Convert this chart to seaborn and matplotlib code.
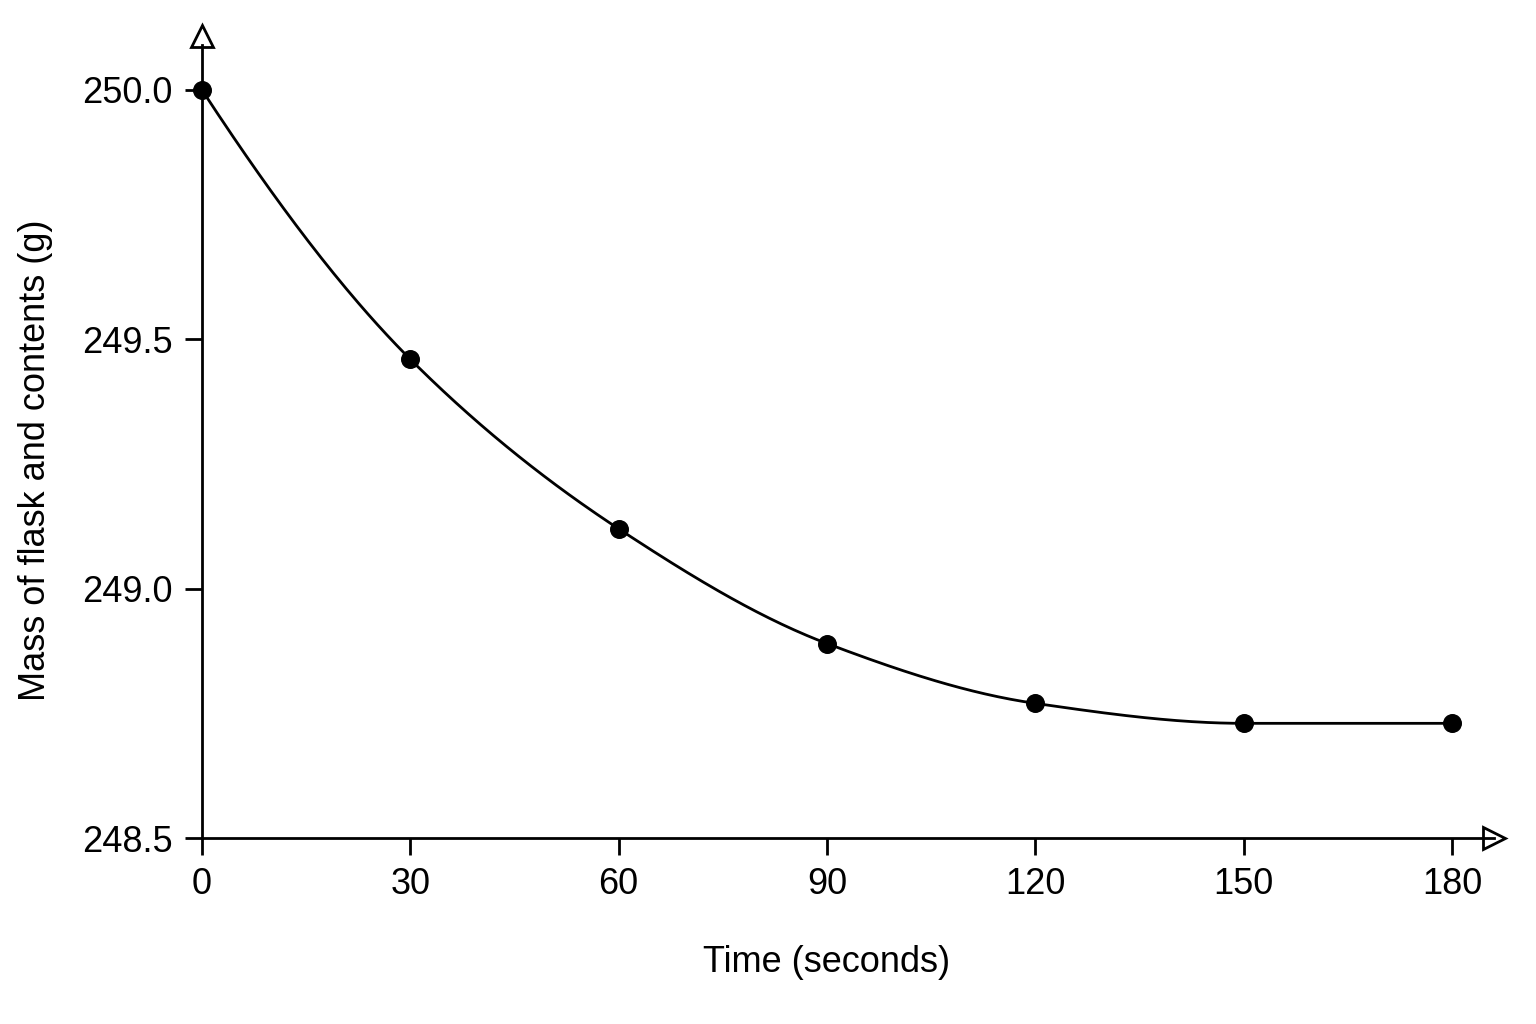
import numpy as np
import pandas as pd
import matplotlib
matplotlib.use("Agg")
import matplotlib.pyplot as plt
import seaborn as sns

# data
time_s = [0, 30, 60, 90, 120, 150, 180]
mass_g = [250.00, 249.46, 249.12, 248.89, 248.77, 248.73, 248.73]
x_ticks = [0, 30, 60, 90, 120, 150, 180]
y_ticks = [248.5, 249.0, 249.5, 250.0]


def pchip(x, y, xs):
    # monotone cubic (Fritsch-Carlson) so the drawn curve goes through every point
    x = np.asarray(x, float)
    y = np.asarray(y, float)
    h = np.diff(x)
    d = np.diff(y) / h
    m = np.zeros_like(y)
    for k in range(1, len(x) - 1):
        if d[k - 1] * d[k] > 0:
            w1 = 2 * h[k] + h[k - 1]
            w2 = h[k] + 2 * h[k - 1]
            m[k] = (w1 + w2) / (w1 / d[k - 1] + w2 / d[k])
    # three-point end slopes
    m[0] = ((2 * h[0] + h[1]) * d[0] - h[0] * d[1]) / (h[0] + h[1])
    m[-1] = ((2 * h[-1] + h[-2]) * d[-1] - h[-1] * d[-2]) / (h[-1] + h[-2])
    if np.sign(m[-1]) != np.sign(d[-1]):
        m[-1] = 0.0
    idx = np.clip(np.searchsorted(x, xs) - 1, 0, len(h) - 1)
    t = (xs - x[idx]) / h[idx]
    h00 = 2 * t**3 - 3 * t**2 + 1
    h10 = t**3 - 2 * t**2 + t
    h01 = -2 * t**3 + 3 * t**2
    h11 = t**3 - t**2
    return (h00 * y[idx] + h10 * h[idx] * m[idx] + h01 * y[idx + 1]
            + h11 * h[idx] * m[idx + 1])


sns.set_theme(style="ticks")
plt.rcParams["font.family"] = ["Liberation Sans", "DejaVu Sans"]

points = pd.DataFrame({"time": time_s, "mass": mass_g})
xs = np.linspace(min(time_s), max(time_s), 400)
curve = pd.DataFrame({"time": xs, "mass": pchip(time_s, mass_g, xs)})

fig = plt.figure(figsize=(15.36, 10.24), dpi=100)
ax = fig.add_axes([0.1315, 0.1816, 0.841, 0.7744])

sns.lineplot(data=curve, x="time", y="mass", ax=ax, color="black", linewidth=2)
sns.scatterplot(data=points, x="time", y="mass", ax=ax, color="black",
                s=160, edgecolor="black", zorder=5, clip_on=False)

ax.set_xlim(0, 186)
ax.set_ylim(248.5, 250.09)
ax.set_xticks(x_ticks)
ax.set_yticks(y_ticks)
ax.set_yticklabels([f"{v:.1f}" for v in y_ticks])
ax.tick_params(direction="out", length=12, width=2, labelsize=26, color="black",
               labelcolor="black", pad=9)

for side in ["top", "right"]:
    ax.spines[side].set_visible(False)
for side in ["left", "bottom"]:
    ax.spines[side].set_linewidth(2)
    ax.spines[side].set_color("black")

# open arrow heads at the ends of the axes
ax.plot(1.0, 0, ">", transform=ax.transAxes, ms=16, mfc="white", mec="black",
        mew=2, clip_on=False)
ax.plot(0, 1.012, "^", transform=ax.transAxes, ms=16, mfc="white", mec="black",
        mew=2, clip_on=False)

ax.set_xlabel("Time (seconds)", fontsize=26, color="black")
ax.set_ylabel("Mass of flask and contents (g)", fontsize=26, color="black")
ax.xaxis.set_label_coords(90 / 186, -0.135)
ax.yaxis.set_label_coords(-0.115, 0.477)

fig.savefig("out.png", dpi=100, facecolor="white")
